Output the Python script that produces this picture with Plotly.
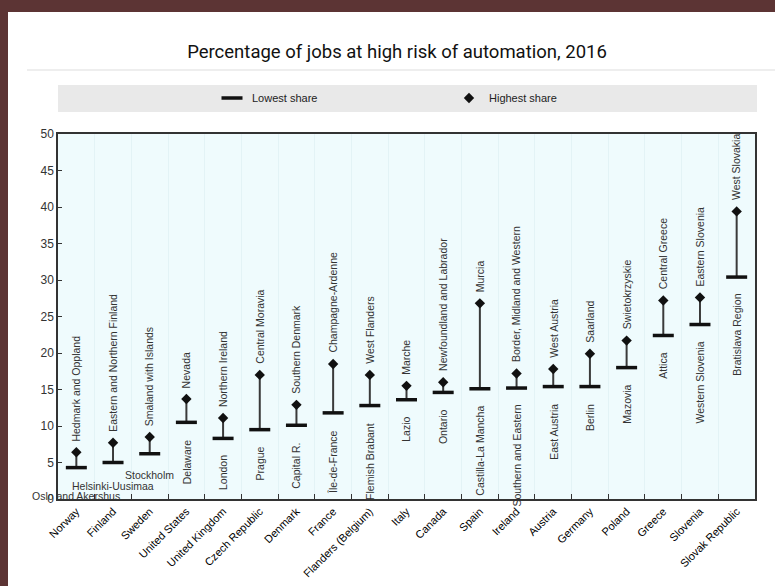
import plotly.graph_objects as go

countries = ["Norway", "Finland", "Sweden", "United States", "United Kingdom",
             "Czech Republic", "Denmark", "France", "Flanders (Belgium)", "Italy",
             "Canada", "Spain", "Ireland", "Austria", "Germany", "Poland",
             "Greece", "Slovenia", "Slovak Republic"]
lowest_share = [4.3, 5.0, 6.2, 10.5, 8.3, 9.5, 10.1, 11.8, 12.8, 13.6,
                14.6, 15.1, 15.2, 15.4, 15.4, 18.0, 22.4, 23.9, 30.4]
highest_share = [6.4, 7.7, 8.5, 13.7, 11.1, 17.0, 12.9, 18.5, 17.0, 15.5,
                 16.0, 26.8, 17.2, 17.8, 19.9, 21.7, 27.2, 27.6, 39.4]
lowest_region = ["Oslo and Akershus", "Helsinki-Uusimaa", "Stockholm", "Delaware",
                 "London", "Prague", "Capital R.", "Île-de-France", "Flemish Brabant",
                 "Lazio", "Ontario", "Castilla-La Mancha", "Southern and Eastern",
                 "East Austria", "Berlin", "Mazovia", "Attica", "Western Slovenia",
                 "Bratislava Region"]
highest_region = ["Hedmark and Oppland", "Eastern and Northern Finland",
                  "Smaland with Islands", "Nevada", "Northern Ireland",
                  "Central Moravia", "Southern Denmark", "Champagne-Ardenne",
                  "West Flanders", "Marche", "Newfoundland and Labrador", "Murcia",
                  "Border, Midland and Western", "West Austria", "Saarland",
                  "Swietokrzyskie", "Central Greece", "Eastern Slovenia",
                  "West Slovakia"]
y_ticks = [0, 5, 10, 15, 20, 25, 30, 35, 40, 45, 50]

# labels written horizontally (not enough room), with their downward offset in px
horizontal_label_shift = {"Norway": -20, "Finland": -15, "Sweden": -13}

W, H = 775, 586
L, R, T, B = 58, 20, 134, 87
pw, ph = W - L - R, H - T - B

def px_x(p):
    return (p - L) / pw

def px_y(p):
    return (H - B - p) / ph

FONT = "Liberation Sans, Arial, sans-serif"
LABEL_FONT = dict(family=FONT, size=10.5, color="#333333")

# connecting stems
sx, sy = [], []
for c, lo, hi in zip(countries, lowest_share, highest_share):
    sx += [c, c, None]
    sy += [lo, hi, None]

fig = go.Figure()
fig.add_trace(go.Scatter(x=sx, y=sy, mode="lines", line=dict(color="#3a3a3a", width=2),
                         showlegend=False, hoverinfo="skip"))
fig.add_trace(go.Scatter(x=countries, y=lowest_share, mode="markers", name="Lowest share",
                         marker=dict(symbol="line-ew", size=15,
                                     line=dict(color="#111111", width=3.5))))
fig.add_trace(go.Scatter(x=countries, y=highest_share, mode="markers", name="Highest share",
                         marker=dict(symbol="diamond", size=8, color="#111111",
                                     line=dict(width=0))))

ann = []
for c, lo, hi, lr, hr in zip(countries, lowest_share, highest_share,
                             lowest_region, highest_region):
    ann.append(dict(x=c, y=hi, text=hr, textangle=-90, showarrow=False,
                    xanchor="center", yanchor="bottom", yshift=9, font=LABEL_FONT))
    if c in horizontal_label_shift:
        ann.append(dict(x=c, y=lo, text=lr, showarrow=False,
                        xanchor="center", yanchor="top",
                        yshift=horizontal_label_shift[c], font=LABEL_FONT))
    else:
        ann.append(dict(x=c, y=lo, text=lr, textangle=-90, showarrow=False,
                        xanchor="center", yanchor="top", yshift=-15, font=LABEL_FONT))

shapes = [
    # frame strips
    dict(type="rect", xref="paper", yref="paper", x0=px_x(0), x1=px_x(W), y0=px_y(0), y1=px_y(12),
         fillcolor="#5c3434", line=dict(width=0), layer="above"),
    dict(type="rect", xref="paper", yref="paper", x0=px_x(0), x1=px_x(8), y0=px_y(0), y1=px_y(H),
         fillcolor="#5c3434", line=dict(width=0), layer="above"),
    # separator under title
    dict(type="line", xref="paper", yref="paper", x0=px_x(27), x1=px_x(W), y0=px_y(70), y1=px_y(70),
         line=dict(color="#dddddd", width=1)),
    # legend band
    dict(type="rect", xref="paper", yref="paper", x0=px_x(58), x1=px_x(757), y0=px_y(85), y1=px_y(112),
         fillcolor="#e9e9e9", line=dict(width=0), layer="below"),
]

fig.update_layout(
    width=W, height=H,
    margin=dict(l=L, r=R, t=T, b=B, autoexpand=False),
    paper_bgcolor="white",
    plot_bgcolor="#effbfd",
    title=dict(text="Percentage of jobs at high risk of automation, 2016",
               xref="container", x=397 / W, xanchor="center",
               yref="container", y=1 - 52 / H, yanchor="middle",
               font=dict(family="Roboto, sans-serif", size=18.5, color="#111111")),
    showlegend=True,
    legend=dict(orientation="h", xref="paper", yref="paper",
                x=px_x(212), xanchor="left", y=px_y(98), yanchor="middle",
                bgcolor="rgba(0,0,0,0)", itemwidth=30,
                entrywidth=192, entrywidthmode="pixels",
                font=dict(family="Liberation Sans Narrow, Arial Narrow, Liberation Sans, sans-serif",
                          size=11, color="#222222")),
    xaxis=dict(type="category", range=[-0.5, len(countries) - 0.5],
               tickson="boundaries", ticks="inside", ticklen=5, tickcolor="#333333",
               showgrid=True, gridcolor="#e3f3f6", gridwidth=1,
               showline=True, linecolor="#333333", linewidth=1.5, mirror=True,
               tickangle=-45, tickfont=dict(family=FONT, size=11, color="#000000")),
    yaxis=dict(range=[0, 50], tickvals=y_ticks, ticks="inside", ticklen=4,
               tickcolor="#333333", showgrid=False, zeroline=False,
               showline=True, linecolor="#333333", linewidth=1.5, mirror=True,
               tickfont=dict(family=FONT, size=12, color="#333333")),
    annotations=ann,
    shapes=shapes,
)

fig.write_html("out.html",
               config={"displayModeBar": False},
               post_script="document.body.style.margin='0';document.body.style.padding='0';")
